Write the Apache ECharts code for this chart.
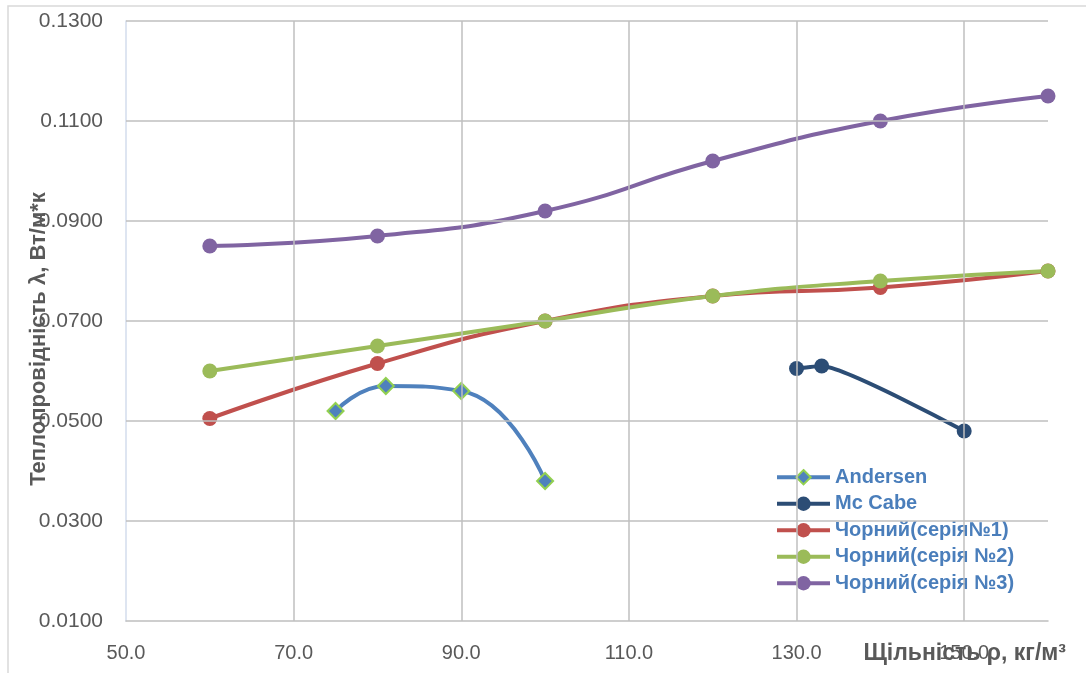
<!DOCTYPE html>
<html>
<head>
<meta charset="utf-8">
<script src="https://cdn.jsdelivr.net/npm/echarts@6/dist/echarts.min.js"></script>
<style>
  html, body { margin: 0; padding: 0; background: #fff; }
  #chart { width: 1086px; height: 673px; }
</style>
</head>
<body>
<div id="chart"></div>
<script>
// Thermal conductivity vs density
const andersenX = [75, 81, 90, 100];
const andersenY = [0.052, 0.057, 0.056, 0.038];

const mcCabeX = [130, 133, 150];
const mcCabeY = [0.0605, 0.061, 0.048];

const chornyX = [60, 80, 100, 120, 140, 160];
const chorny1Y = [0.0505, 0.0615, 0.070, 0.075, 0.0767, 0.080];
const chorny2Y = [0.060, 0.065, 0.070, 0.075, 0.078, 0.080];
const chorny3Y = [0.085, 0.087, 0.092, 0.102, 0.110, 0.115];

const seriesNames = ['Andersen', 'Mc Cabe', 'Чорний(серія№1)', 'Чорний(серія №2)', 'Чорний(серія №3)'];

// gridline positions (labelled ticks)
const xTicks = [50, 70, 90, 110, 130, 150];
const yTicks = [0.01, 0.03, 0.05, 0.07, 0.09, 0.11, 0.13];

const xTitle = 'Щільність ρ, кг/м³';
const yTitle = 'Теплопровідність λ, Вт/м*к';

const zip = (xs, ys) => xs.map((x, i) => [x, ys[i]]);

const GRID = '#BFBFBF';
const LABEL = '#595959';

const chart = echarts.init(document.getElementById('chart'), null, { renderer: 'canvas' });

function lineSeries(name, data, color, opts) {
  return Object.assign({
    name: name,
    type: 'line',
    data: data,
    smooth: 0.5,
    symbol: 'circle',
    symbolSize: 15,
    showSymbol: true,
    z: 3,
    lineStyle: { color: color, width: 4 },
    itemStyle: { color: color },
    emphasis: { disabled: true }
  }, opts || {});
}

chart.setOption({
  animation: false,
  graphic: [{
    type: 'rect',
    shape: { x: 8, y: 6, width: 1100, height: 700 },
    style: { fill: 'none', stroke: '#D9D9D9', lineWidth: 1.5 },
    z: -10,
    silent: true
  }, {
    type: 'text',
    right: 20,
    top: 642,
    z: 10,
    silent: true,
    style: {
      text: xTitle,
      font: 'bold 23px "Liberation Sans"',
      fill: LABEL
    }
  }],
  grid: { left: 126, right: 38, top: 21, bottom: 52, containLabel: false, outerBoundsMode: 'none' },
  xAxis: {
    type: 'value',
    min: 50,
    max: 160,
    interval: 10,
    axisLine: { show: true, lineStyle: { color: GRID, width: 1.5 } },
    axisTick: { show: false },
    splitLine: { show: false },
    axisLabel: {
      margin: 22,
      fontFamily: 'Liberation Sans',
      fontSize: 20,
      color: LABEL,
      showMaxLabel: false,
      formatter: v => (xTicks.indexOf(Math.round(v)) >= 0 ? v.toFixed(1) : '')
    }
  },
  yAxis: {
    type: 'value',
    min: 0.01,
    max: 0.13,
    interval: 0.01,
    name: yTitle,
    nameLocation: 'middle',
    nameGap: 76,
    nameRotate: 90,
    nameMoveOverlap: false,
    nameTextStyle: {
      fontFamily: 'Liberation Sans',
      fontWeight: 'bold',
      fontSize: 22,
      color: LABEL,
      padding: [0, 36, 0, 0]
    },
    axisLine: { show: true, lineStyle: { color: '#D3DDEC', width: 1.5 } },
    axisTick: { show: false },
    splitLine: { show: false },
    axisLabel: {
      margin: 23,
      fontFamily: 'Liberation Sans',
      fontSize: 21,
      color: LABEL,
      formatter: v => (Math.round(v * 100) % 2 === 1 ? v.toFixed(4) : '')
    }
  },
  legend: {
    orient: 'vertical',
    left: 775,
    top: 464,
    padding: 0,
    itemGap: 0,
    itemWidth: 53,
    itemHeight: 18,
    data: seriesNames,
    lineStyle: { width: 4 },
    textStyle: {
      fontFamily: 'Liberation Sans',
      fontWeight: 'bold',
      fontSize: 20,
      lineHeight: 26.5,
      color: '#4A7EBB'
    },
    selectedMode: false
  },
  series: [
    {
      name: 'grid',
      type: 'scatter',
      data: [],
      silent: true,
      z: 1,
      markLine: {
        silent: true,
        symbol: 'none',
        label: { show: false },
        animation: false,
        lineStyle: { color: GRID, width: 1.5, type: 'solid' },
        emphasis: { disabled: true },
        data: xTicks.filter(v => v > 50).map(v => ({ xAxis: v }))
          .concat(yTicks.filter(v => v > 0.01).map(v => ({ yAxis: v })))
      }
    },
    lineSeries(seriesNames[0], zip(andersenX, andersenY), '#4F81BD', {
      symbol: 'diamond',
      symbolSize: 16,
      itemStyle: { color: '#4F81BD', borderColor: '#92D050', borderWidth: 2 }
    }),
    lineSeries(seriesNames[1], zip(mcCabeX, mcCabeY), '#2C4D75', { smooth: 0.15 }),
    lineSeries(seriesNames[2], zip(chornyX, chorny1Y), '#C0504D'),
    lineSeries(seriesNames[3], zip(chornyX, chorny2Y), '#9BBB59'),
    lineSeries(seriesNames[4], zip(chornyX, chorny3Y), '#8064A2')
  ]
});
</script>
</body>
</html>
